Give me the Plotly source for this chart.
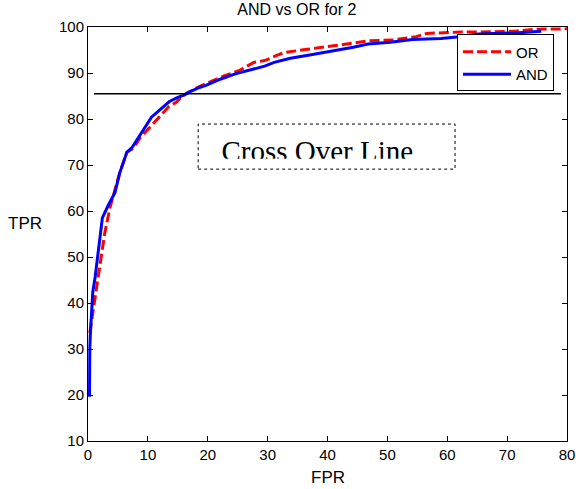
import plotly.graph_objects as go

# ---- data ----
and_fpr = [0.25, 0.25, 0.3, 0.4, 0.8, 1.2, 1.6, 2.0, 2.4, 3.4, 4.5, 5.3, 6.5, 7.3, 8.7,
           10.0, 10.6, 12.0, 13.6, 15.0, 16.0, 17.0, 18.5, 19.7, 22.2, 24.6, 27.1, 29.5,
           31.1, 33.8, 37.5, 40.6, 44.3, 46.8, 50.5, 54.2, 59.0, 62.0, 65.2, 71.4, 75.7]
and_tpr = [19.6, 26.0, 30.0, 33.5, 42.4, 45.7, 50.0, 55.2, 58.5, 61.3, 64.0, 68.3, 72.8, 73.7, 76.5,
           79.3, 80.4, 82.0, 83.8, 84.7, 85.2, 85.9, 86.8, 87.3, 88.7, 89.8, 90.6, 91.5,
           92.3, 93.2, 94.0, 94.7, 95.6, 96.3, 96.7, 97.3, 97.5, 97.9, 98.5, 98.7, 99.1]

or_fpr = [0.3, 0.9, 1.7, 2.3, 2.8, 3.7, 4.5, 5.3, 6.5, 7.6, 8.7, 10.4, 12.0, 13.5, 14.8,
          15.4, 16.6, 18.5, 20.3, 22.8, 25.2, 27.7, 29.5, 32.6, 36.3, 40.6, 44.3, 46.8,
          51.0, 54.8, 56.6, 62.2, 65.0, 71.4, 74.5, 80.0]
or_tpr = [33.5, 38.5, 45.0, 50.9, 55.2, 60.9, 64.6, 68.3, 72.8, 73.7, 75.9, 78.3, 80.4, 82.7, 83.7,
          84.5, 85.7, 87.0, 88.0, 89.4, 90.5, 92.3, 92.7, 94.4, 95.1, 95.8, 96.5, 97.0,
          97.2, 97.9, 98.6, 98.9, 98.9, 99.1, 99.5, 99.6]

cross_tpr = 85.5
cross_fpr = [1, 79]

x_ticks = [0, 10, 20, 30, 40, 50, 60, 70, 80]
y_ticks = [10, 20, 30, 40, 50, 60, 70, 80, 90, 100]

title_text = "AND vs OR for 2"
x_label = "FPR"
y_label = "TPR"
note_text = "Cross Over Line"

SANS = "Liberation Sans, Arial, sans-serif"
SERIF = "Liberation Serif, Times New Roman, serif"

fig = go.Figure()

fig.add_trace(go.Scatter(x=or_fpr, y=or_tpr, mode="lines", name="OR",
                         line=dict(color="#ff0000", width=3, dash="10px,4px")))
fig.add_trace(go.Scatter(x=and_fpr, y=and_tpr, mode="lines", name="AND",
                         line=dict(color="#0000ff", width=3)))
fig.add_trace(go.Scatter(x=cross_fpr, y=[cross_tpr, cross_tpr], mode="lines",
                         line=dict(color="black", width=1.5), showlegend=False,
                         hoverinfo="skip"))

# text clipped at its bottom like the reference, via a small invisible subplot
fig.add_trace(go.Scatter(x=[38.3], y=[72.5], mode="text", text=[note_text],
                         textfont=dict(family=SERIF, size=29, color="black"),
                         xaxis="x2", yaxis="y2", cliponaxis=True,
                         showlegend=False, hoverinfo="skip"))

fig.add_shape(type="rect", x0=18.4, x1=61.3, y0=69.1, y1=78.9, xref="x", yref="y",
              line=dict(color="black", width=1, dash="dot"))

axis_common = dict(showgrid=False, zeroline=False, showline=True, linecolor="black",
                   linewidth=1, mirror="ticks", ticks="inside", ticklen=5,
                   tickcolor="black", automargin=False,
                   tickfont=dict(family=SANS, size=15, color="black"))

fig.update_layout(
    width=576, height=489,
    margin=dict(l=88, r=9, t=27, b=48, autoexpand=False),
    paper_bgcolor="white", plot_bgcolor="rgba(0,0,0,0)",
    font=dict(family=SANS, color="black"),
    title=dict(text=title_text, x=0.436, xref="paper", xanchor="center",
               y=1 - 9 / 489, yref="container", yanchor="middle",
               font=dict(family=SANS, size=16, color="black")),
    xaxis=dict(range=[0, 80], tickvals=x_ticks, **axis_common),
    yaxis=dict(range=[10, 100], tickvals=y_ticks, **axis_common),
    xaxis2=dict(domain=[0, 1], range=[0, 80], visible=False, anchor="y2"),
    yaxis2=dict(domain=[0.682, 0.766], range=[71.41, 78.91], visible=False, anchor="x2"),
    legend=dict(x=0.7704, y=0.982, xanchor="left", yanchor="top",
                bgcolor="white", bordercolor="black", borderwidth=1,
                font=dict(family=SANS, size=15, color="black"),
                itemwidth=48, tracegroupgap=0),
    showlegend=True,
    annotations=[
        dict(text=x_label, x=0.5, y=-(477 - 441) / 414, xref="paper", yref="paper",
             xanchor="center", yanchor="middle", showarrow=False,
             font=dict(family=SANS, size=17, color="black")),
        dict(text=y_label, x=-0.1315, y=0.525, xref="paper", yref="paper",
             xanchor="center", yanchor="middle", showarrow=False,
             font=dict(family=SANS, size=17, color="black")),
    ],
)

fig.write_html("out.html", config={"displayModeBar": False},
               post_script="document.body.style.margin='0';document.body.style.overflow='hidden';")
